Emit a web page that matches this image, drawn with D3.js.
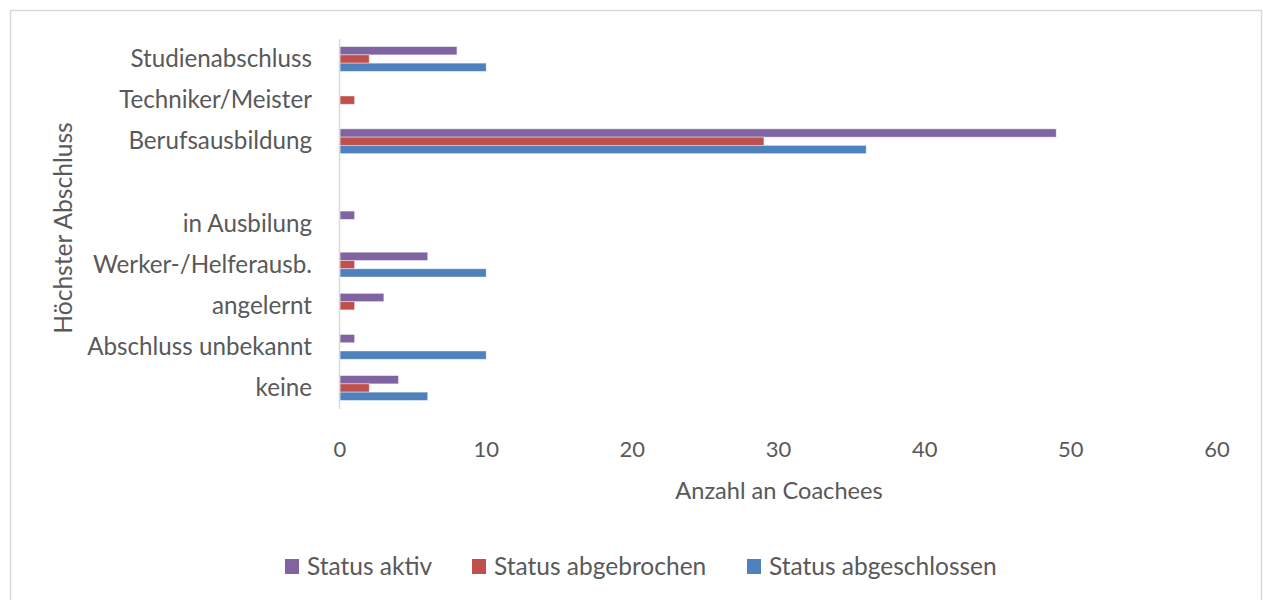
<!DOCTYPE html>
<html>
<head>
<meta charset="utf-8">
<script src="https://cdn.jsdelivr.net/npm/d3@7"></script>
<style>
  body { margin: 0; background: #fff; }
  text { font-family: Lato, "Open Sans", sans-serif; fill: #595959; }
</style>
</head>
<body>
<div id="chart"></div>
<script>
// categories top to bottom (one empty slot between Berufsausbildung and in Ausbilung)
const categories = ["Studienabschluss", "Techniker/Meister", "Berufsausbildung", " ",
  "in Ausbilung", "Werker-/Helferausb.", "angelernt", "Abschluss unbekannt", "keine"];
const statusAktiv = [8, 0, 49, 0, 1, 6, 3, 1, 4];
const statusAbgebrochen = [2, 1, 29, 0, 0, 1, 1, 0, 2];
const statusAbgeschlossen = [10, 0, 36, 0, 0, 10, 0, 10, 6];
const seriesNames = ["Status aktiv", "Status abgebrochen", "Status abgeschlossen"];
const xTicks = [0, 10, 20, 30, 40, 50, 60];

const colors = ["#8064a2", "#c0504d", "#4f81bd"];
const series = [statusAktiv, statusAbgebrochen, statusAbgeschlossen];

const W = 1263, H = 600;
const svg = d3.select("#chart").append("svg")
  .attr("width", W).attr("height", H);

// outer frame
svg.append("rect")
  .attr("x", 10.5).attr("y", 10.5)
  .attr("width", 1251).attr("height", 600)
  .attr("fill", "#fff").attr("stroke", "#d9d9d9").attr("stroke-width", 1.5);

const x = d3.scaleLinear().domain([0, 60]).range([340, 1217]);
const y = d3.scalePoint().domain(categories).range([59, 388]);
const inner = d3.scaleBand().domain(seriesNames).range([-12.4, 12.4]);

// bars
series.forEach((vals, i) => {
  svg.append("g").selectAll("rect")
    .data(vals.map((v, j) => ({ cat: categories[j], v: v })).filter(d => d.v > 0))
    .enter()
    .append("rect")
    .attr("x", x(0))
    .attr("y", d => y(d.cat) + inner(seriesNames[i]))
    .attr("width", d => x(d.v) - x(0))
    .attr("height", inner.bandwidth())
    .attr("fill", colors[i])
    .attr("stroke", "#fff").attr("stroke-opacity", 0.5).attr("stroke-width", 0.8);
});

// vertical axis line
svg.append("line")
  .attr("x1", 339.5).attr("x2", 339.5)
  .attr("y1", 39).attr("y2", 409)
  .attr("stroke", "#d9d9d9").attr("stroke-width", 1.5);

// category labels
svg.append("g").selectAll("text")
  .data(categories)
  .enter()
  .append("text")
  .attr("x", 312)
  .attr("y", d => y(d) + 8)
  .attr("text-anchor", "end")
  .style("font-size", "24.2px")
  .text(d => d.trim());

// x tick labels
svg.append("g").selectAll("text")
  .data(xTicks)
  .enter()
  .append("text")
  .attr("x", d => x(d))
  .attr("y", 457)
  .attr("text-anchor", "middle")
  .style("font-size", "22px")
  .text(d => d);

// axis titles
svg.append("text")
  .attr("x", 779).attr("y", 499)
  .attr("text-anchor", "middle")
  .style("font-size", "23.6px")
  .text("Anzahl an Coachees");

svg.append("text")
  .attr("transform", "translate(72,228) rotate(-90)")
  .attr("text-anchor", "middle")
  .style("font-size", "24.6px")
  .text("Höchster Abschluss");

// legend
const legendX = [285, 472, 747];
const legend = svg.append("g").selectAll("g")
  .data(seriesNames)
  .enter()
  .append("g")
  .attr("transform", (d, i) => "translate(" + legendX[i] + ",559)");
legend.append("rect")
  .attr("width", 14).attr("height", 15)
  .attr("fill", (d, i) => colors[i]);
legend.append("text")
  .attr("x", 22).attr("y", 15.5)
  .style("font-size", "24.5px")
  .text(d => d);
</script>
</body>
</html>
